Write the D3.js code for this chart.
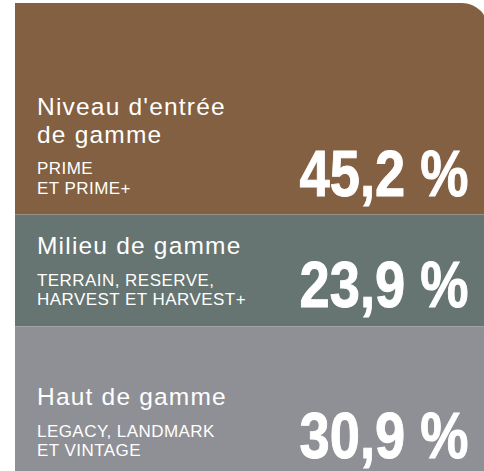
<!DOCTYPE html>
<html>
<head>
<meta charset="utf-8">
<script src="https://cdn.jsdelivr.net/npm/d3@7"></script>
<style>
  body { margin: 0; background: #fff; }
  svg { display: block; }
</style>
</head>
<body>
<svg id="chart"></svg>
<script>
// chart values
const headings = [["Niveau d'entrée", "de gamme"], ["Milieu de gamme"], ["Haut de gamme"]];
const models = [["PRIME", "ET PRIME+"], ["TERRAIN, RESERVE,", "HARVEST ET HARVEST+"], ["LEGACY, LANDMARK", "ET VINTAGE"]];
const shares = [45.2, 23.9, 30.9];
const labels = ["45,2 %", "23,9 %", "30,9 %"];

const width = 484, height = 471;
const colors = ["#836041", "#667571", "#8f9095"];
const bottomPad = [21, 21, 15];

const svg = d3.select("#chart").attr("width", width).attr("height", height);

// stack the shares top to bottom
const ends = Array.from(d3.cumsum(shares));
const starts = ends.map((e, i) => e - shares[i]);

const y = d3.scaleLinear().domain([0, d3.sum(shares)]).range([3, 471]);
const x0 = 15, x1 = 488, r = 26;

const bands = svg.selectAll("g.band")
  .data(shares)
  .join("g")
  .attr("class", "band");

bands.append("path")
  .attr("fill", (d, i) => colors[i])
  .attr("d", (d, i) => {
    const top = y(starts[i]), bot = y(ends[i]);
    const p = d3.path();
    p.moveTo(x0, top);
    if (i === 0) {
      // only the top right corner is rounded
      p.lineTo(x1 - r, top);
      p.arcTo(x1, top, x1, top + r, r);
    } else {
      p.lineTo(x1, top);
    }
    p.lineTo(x1, bot);
    p.lineTo(x0, bot);
    p.closePath();
    return p.toString();
  });

const textX = 37;

bands.each(function(d, i) {
  const g = d3.select(this);
  const base = y(ends[i]) - bottomPad[i];

  // small model names, last line sits on base
  const subs = models[i];
  subs.forEach((s, k) => {
    g.append("text")
      .attr("x", textX)
      .attr("y", base - (subs.length - 1 - k) * 19.5)
      .attr("fill", "#fff")
      .style("font-family", "'Liberation Sans', Arial, sans-serif")
      .style("font-size", "17px")
      .style("letter-spacing", "0.45px")
      .text(s);
  });

  // heading above the model names
  const heads = headings[i];
  const headBase = base - (subs.length - 1) * 19.5 - 31.5;
  heads.forEach((h, k) => {
    g.append("text")
      .attr("x", textX)
      .attr("y", headBase - (heads.length - 1 - k) * 27.6)
      .attr("fill", "#fff")
      .style("font-family", "'Liberation Sans', Arial, sans-serif")
      .style("font-size", "24.5px")
      .style("letter-spacing", "1.2px")
      .text(h);
  });

  // big share number, squeezed to look condensed
  g.append("text")
    .attr("transform", `translate(468.5,${base + 2}) scale(0.835,1)`)
    .attr("text-anchor", "end")
    .attr("fill", "#fff")
    .attr("stroke", "#fff")
    .attr("stroke-width", 1)
    .style("font-family", "'Liberation Sans', Arial, sans-serif")
    .style("font-weight", "bold")
    .style("font-size", "65px")
    .text(labels[i]);
});
</script>
</body>
</html>
